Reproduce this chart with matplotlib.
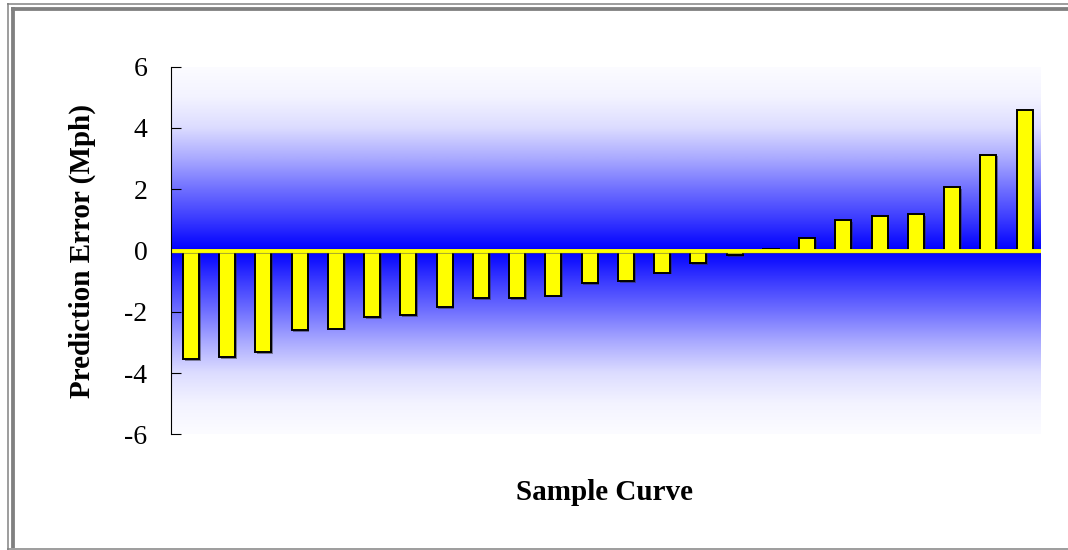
import numpy as np
import matplotlib
matplotlib.use("Agg")
import matplotlib.pyplot as plt
from matplotlib.lines import Line2D
from matplotlib import patheffects as pe

# ---- data ----
samples = list(range(1, 25))
errors = [-3.55, -3.48, -3.31, -2.61, -2.55, -2.18, -2.11, -1.86, -1.55, -1.55,
          -1.47, -1.07, -1.00, -0.72, -0.41, -0.15, 0.04, 0.41, 0.99, 1.12,
          1.19, 2.07, 3.13, 4.58]
yticks = [-6, -4, -2, 0, 2, 4, 6]
ylabel = "Prediction Error (Mph)"
xlabel = "Sample Curve"

W, H = 1068, 550
fig = plt.figure(figsize=(W / 100, H / 100), dpi=100)
fig.patch.set_facecolor("white")

ax_left, ax_right, ax_top, ax_bot = 171, 1041, 66.7, 434.3
ax = fig.add_axes([ax_left / W, 1 - ax_bot / H, (ax_right - ax_left) / W, (ax_bot - ax_top) / H])

# background gradient: white -> blue (at 0) -> white
yy = np.linspace(-6, 6, 600)
stops_abs = [0, 0.5, 1, 2, 3, 4, 5, 6]
stops_val = np.array([0, 28, 58, 112, 170, 220, 243, 252]) / 255.0
w = np.interp(np.abs(yy), stops_abs, stops_val)
img = np.zeros((len(yy), 1, 3))
img[:, 0, 0] = w
img[:, 0, 1] = w
img[:, 0, 2] = 1.0
ax.imshow(img, extent=[0, 1, 0, 1], transform=ax.transAxes, aspect="auto",
          origin="lower", zorder=0, interpolation="bilinear")

x = np.arange(len(samples))
bars = ax.bar(x, errors, width=0.44, color="#FFFF00", edgecolor="black",
              linewidth=1.4, zorder=2)
for b in bars:
    b.set_path_effects([pe.SimplePatchShadow(offset=(1.2, -1.2), shadow_rgbFace="#303030", alpha=0.5),
                        pe.Normal()])

ax.axhline(0, color="#FFFF00", lw=2.8, zorder=3,
           path_effects=[pe.SimpleLineShadow(offset=(0, -0.8), shadow_color="#555555", alpha=0.5),
                         pe.Normal()])

ax.set_xlim(-0.55, len(samples) - 0.55)
ax.set_ylim(-6, 6)
ax.set_xticks([])
ax.set_yticks(yticks)
ax.set_yticklabels([str(t) for t in yticks], family="Liberation Serif", fontsize=20)
ax.tick_params(axis="y", direction="in", length=7, width=0.8, color="black", pad=17)
for s in ["top", "right", "bottom"]:
    ax.spines[s].set_visible(False)
ax.spines["left"].set_color("black")
ax.spines["left"].set_linewidth(0.8)
ax.spines["left"].set_zorder(4)

fig.text(82.5 / W, 1 - 251.5 / H, ylabel, rotation=90, ha="center", va="center",
         fontsize=21, fontweight="bold", family="Liberation Serif")
fig.text(604 / W, 1 - 500 / H, xlabel, ha="center", va="baseline",
         fontsize=21, fontweight="bold", family="Liberation Serif")

# outer frame
gray = "#808080"
def fline(x0, y0, x1, y1, lw_px):
    fig.add_artist(Line2D([x0 / W, x1 / W], [1 - y0 / H, 1 - y1 / H],
                          transform=fig.transFigure, color=gray,
                          lw=lw_px * 0.72, solid_capstyle="butt"))

fline(7, 3.5, W, 3.5, 1.5)
fline(7.5, 3, 7.5, H, 1.5)
fline(11, 8.7, W, 8.7, 3.8)
fline(13, 7, 13, 548, 3.8)
fline(7, 549, W, 549, 1.5)

fig.savefig("out.png", dpi=100)
